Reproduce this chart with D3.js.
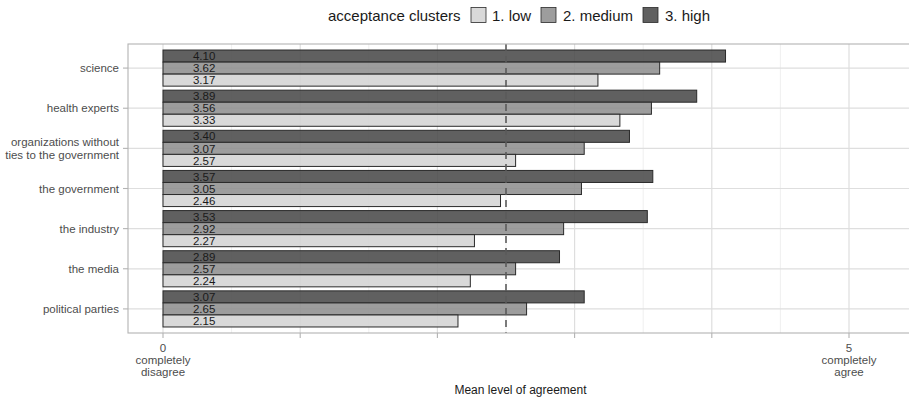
<!DOCTYPE html>
<html>
<head>
<meta charset="utf-8">
<script src="https://cdn.jsdelivr.net/npm/d3@7"></script>
<style>
  html, body { margin: 0; padding: 0; background: #fff; }
  svg { display: block; font-family: "Liberation Sans", Arial, Helvetica, sans-serif; }
</style>
</head>
<body>
<svg id="chart" width="909" height="397"></svg>
<script>
// ---- data ----
const categories = ["science", "health experts", "organizations without\nties to the government",
  "the government", "the industry", "the media", "political parties"];
const clusters = ["1. low", "2. medium", "3. high"];
const lowValues    = [3.17, 3.33, 2.57, 2.46, 2.27, 2.24, 2.15];
const mediumValues = [3.62, 3.56, 3.07, 3.05, 2.92, 2.57, 2.65];
const highValues   = [4.10, 3.89, 3.40, 3.57, 3.53, 2.89, 3.07];
const xTicks = [0, 1, 2, 3, 4, 5];
const xTickLabels = {0: ["0", "completely", "disagree"], 5: ["5", "completely", "agree"]};
const referenceLine = 2.5;
const labelPosition = 0.3;
const legendTitle = "acceptance clusters";
const xTitle = "Mean level of agreement";

const colors = {"1. low": "#d4d4d4", "2. medium": "#8f8f8f", "3. high": "#4a4a4a"};

const svg = d3.select("#chart");
const panel = {left: 128, right: 909, top: 44, bottom: 333};

// x scale: 0 -> 163, 5 -> 849
const x = d3.scaleLinear().domain([0, 5]).range([163, 849]);

// y band scale with ggplot-like expansion (0.6 units each side)
const yOuter = d3.scaleBand().domain(categories).range([panel.top, panel.bottom])
  .paddingInner(0).paddingOuter(0.1);
const step = yOuter.step();
const groupH = step * 0.9;
const yInner = d3.scaleBand().domain(["3. high", "2. medium", "1. low"]).range([0, groupH]);

const data = [];
categories.forEach((c, i) => {
  data.push({cat: c, cl: "3. high", v: highValues[i]});
  data.push({cat: c, cl: "2. medium", v: mediumValues[i]});
  data.push({cat: c, cl: "1. low", v: lowValues[i]});
});

const center = c => yOuter(c) + step / 2;

// grid
const g = svg.append("g");
const minor = d3.range(0.5, 5.5, 1).concat([-0.5]).filter(v => x(v) > panel.left && x(v) < panel.right);
g.selectAll("line.minor").data(minor).join("line")
  .attr("x1", d => x(d)).attr("x2", d => x(d)).attr("y1", panel.top).attr("y2", panel.bottom)
  .attr("stroke", "#ebebeb").attr("stroke-width", 0.8);
g.selectAll("line.major").data(xTicks).join("line")
  .attr("x1", d => x(d)).attr("x2", d => x(d)).attr("y1", panel.top).attr("y2", panel.bottom)
  .attr("stroke", "#dedede").attr("stroke-width", 1.2);
g.selectAll("line.hgrid").data(categories).join("line")
  .attr("x1", panel.left).attr("x2", panel.right).attr("y1", d => center(d)).attr("y2", d => center(d))
  .attr("stroke", "#dedede").attr("stroke-width", 1.2);

// bars
svg.append("g").selectAll("rect").data(data).join("rect")
  .attr("x", x(0))
  .attr("y", d => yOuter(d.cat) + (step - groupH) / 2 + yInner(d.cl))
  .attr("width", d => x(d.v) - x(0))
  .attr("height", yInner.bandwidth())
  .attr("fill", d => colors[d.cl])
  .attr("fill-opacity", 0.88)
  .attr("stroke", "#2a2a2a").attr("stroke-width", 1);

// value labels
svg.append("g").selectAll("text").data(data).join("text")
  .attr("x", x(labelPosition))
  .attr("y", d => yOuter(d.cat) + (step - groupH) / 2 + yInner(d.cl) + yInner.bandwidth() / 2)
  .attr("dy", "0.36em")
  .attr("text-anchor", "middle")
  .attr("font-size", 11.5)
  .attr("fill", "#1a1a1a")
  .text(d => d.v.toFixed(2));

// reference line
svg.append("line")
  .attr("x1", x(referenceLine)).attr("x2", x(referenceLine))
  .attr("y1", panel.top).attr("y2", panel.bottom)
  .attr("stroke", "#5a5a5a").attr("stroke-width", 2).attr("stroke-dasharray", "7,5")
  .attr("stroke-opacity", 0.8);

// panel border
svg.append("rect")
  .attr("x", panel.left).attr("y", panel.top)
  .attr("width", panel.right - panel.left + 2).attr("height", panel.bottom - panel.top)
  .attr("fill", "none").attr("stroke", "#b3b3b3").attr("stroke-width", 1.1);

// y axis ticks & labels
const ya = svg.append("g");
ya.selectAll("line").data(categories).join("line")
  .attr("x1", panel.left - 5).attr("x2", panel.left).attr("y1", d => center(d)).attr("y2", d => center(d))
  .attr("stroke", "#b3b3b3").attr("stroke-width", 1.1);
ya.selectAll("text").data(categories).join("text")
  .attr("x", panel.left - 9)
  .attr("y", d => center(d))
  .attr("text-anchor", "end")
  .attr("font-size", 11.5)
  .attr("fill", "#4d4d4d")
  .each(function(d) {
    const lines = d.split("\n");
    const sel = d3.select(this);
    const lh = 13.5;
    lines.forEach((ln, i) => {
      sel.append("tspan").attr("x", panel.left - 9)
        .attr("y", center(d) + (i - (lines.length - 1) / 2) * lh)
        .attr("dy", "0.36em").text(ln);
    });
  });

// x axis ticks & labels
const xa = svg.append("g");
xa.selectAll("line").data(xTicks).join("line")
  .attr("x1", d => x(d)).attr("x2", d => x(d)).attr("y1", panel.bottom).attr("y2", panel.bottom + 5)
  .attr("stroke", "#b3b3b3").attr("stroke-width", 1.1);
xa.selectAll("text").data(xTicks.filter(t => xTickLabels[t])).join("text")
  .attr("text-anchor", "middle")
  .attr("font-size", 11.5)
  .attr("fill", "#4d4d4d")
  .each(function(t) {
    const sel = d3.select(this);
    xTickLabels[t].forEach((ln, i) => {
      sel.append("tspan").attr("x", x(t)).attr("y", 351.5 + i * 12).text(ln);
    });
  });

svg.append("text")
  .attr("x", (panel.left + panel.right) / 2 + 2).attr("y", 394)
  .attr("text-anchor", "middle").attr("font-size", 12).attr("fill", "#1a1a1a")
  .text(xTitle);

// legend
const lg = svg.append("g");
lg.append("text").attr("x", 328).attr("y", 20.5).attr("font-size", 15).attr("fill", "#1a1a1a").text(legendTitle);
const legendItems = [
  {cl: "1. low", bx: 471, tx: 492},
  {cl: "2. medium", bx: 541, tx: 563},
  {cl: "3. high", bx: 643, tx: 665}
];
lg.selectAll("rect").data(legendItems).join("rect")
  .attr("x", d => d.bx).attr("y", 7.5).attr("width", 15).attr("height", 15)
  .attr("fill", d => colors[d.cl]).attr("fill-opacity", 0.88)
  .attr("stroke", "#2a2a2a").attr("stroke-width", 0.8);
lg.selectAll("text.item").data(legendItems).join("text")
  .attr("class", "item")
  .attr("x", d => d.tx).attr("y", 20.5).attr("font-size", 15).attr("fill", "#1a1a1a")
  .text(d => d.cl);
</script>
</body>
</html>
